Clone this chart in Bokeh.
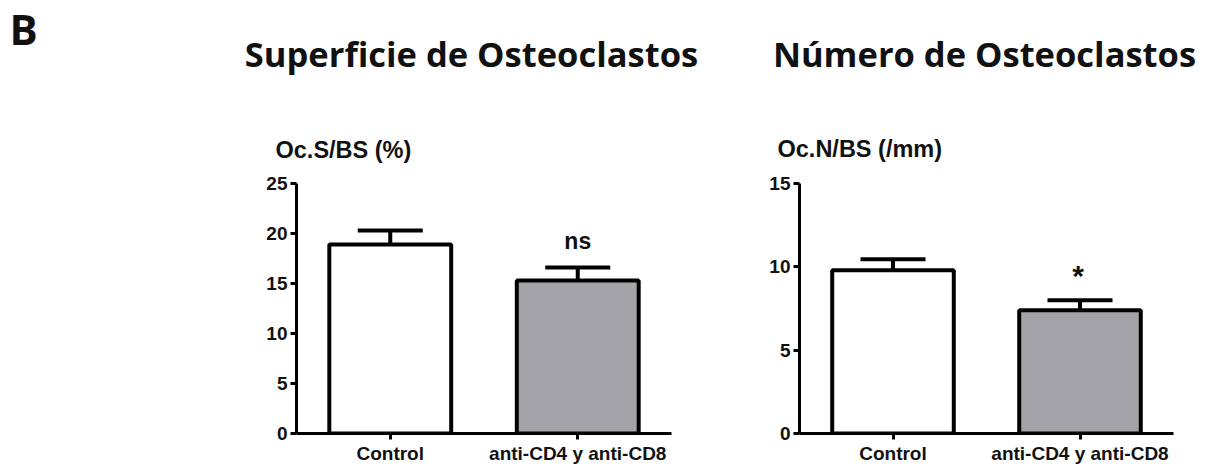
from bokeh.plotting import figure
from bokeh.models import (FactorRange, Range1d, FixedTicker, Label, Whisker,
                          TeeHead, ColumnDataSource)
from bokeh.layouts import row, column
from bokeh.embed import file_html
from bokeh.resources import INLINE

# ---------------- data ----------------
groups = ["Control", "anti-CD4 y anti-CD8"]
bar_colors = ["#ffffff", "#a4a4a8"]

ocs_mean = [18.9, 15.3]      # Oc.S/BS (%)
ocs_sem = [1.4, 1.3]
ocs_ticks = [0, 5, 10, 15, 20, 25]

ocn_mean = [9.8, 7.4]        # Oc.N/BS (/mm)
ocn_sem = [0.65, 0.6]
ocn_ticks = [0, 5, 10, 15]

panel_letter = "B"
panel_titles = ["Superficie de Osteoclastos", "Número de Osteoclastos"]
y_labels = ["Oc.S/BS (%)", "Oc.N/BS (/mm)"]
signif = ["ns", "*"]

TICK_FONT = "Liberation Sans"
TITLE_FONT = "Open Sans"
TXT = "#111111"

HEADER_H = 170
TOTAL_W = 1200
ROW_H = 296


def lab(p, x, y, text, font, size, align="left", baseline="middle"):
    p.add_layout(Label(x=x, y=y, text=text, text_font=font,
                       text_font_style="bold", text_font_size=size,
                       text_align=align, text_baseline=baseline,
                       text_color=TXT))


# ---------------- header (titles, axis captions) ----------------
hdr = figure(width=TOTAL_W, height=HEADER_H, x_range=Range1d(0, TOTAL_W),
             y_range=Range1d(HEADER_H, 0), x_axis_type=None,
             y_axis_type=None, output_backend="svg", toolbar_location=None,
             min_border=0)
hdr.outline_line_color = None
hdr.xgrid.visible = False
hdr.ygrid.visible = False
lab(hdr, 9, 28, panel_letter, TITLE_FONT, "42px", "left")
lab(hdr, 471, 53, panel_titles[0], TITLE_FONT, "34.5px", "center")
lab(hdr, 984, 53, panel_titles[1], TITLE_FONT, "34.5px", "center")
lab(hdr, 275, 149, y_labels[0], TICK_FONT, "23.5px")
lab(hdr, 777, 148, y_labels[1], TICK_FONT, "23.5px")


def make_panel(means, sems, ticks, width, mb_left, mb_right):
    src = ColumnDataSource(dict(
        g=groups, m=means, up=[a + b for a, b in zip(means, sems)],
        c=bar_colors))
    p = figure(x_range=FactorRange(*groups, range_padding=0),
               y_range=Range1d(0, ticks[-1]),
               width=width, height=ROW_H, output_backend="svg",
               toolbar_location=None,
               min_border_left=mb_left, min_border_right=mb_right,
               min_border_top=13, min_border_bottom=33)
    p.vbar(x="g", top="m", bottom=0, width=0.65, source=src,
           fill_color="c", line_color="black", line_width=4)
    w = Whisker(base="g", lower="m", upper="up", source=src,
                line_color="black", line_width=4, lower_head=None,
                upper_head=TeeHead(size=65, line_color="black",
                                   line_width=4))
    p.add_layout(w)

    p.xgrid.visible = False
    p.ygrid.visible = False
    p.outline_line_color = None
    p.background_fill_color = "white"
    p.border_fill_color = "white"

    for ax in (p.xaxis[0], p.yaxis[0]):
        ax.axis_line_width = 3
        ax.axis_line_color = "black"
        ax.major_tick_line_width = 3
        ax.major_tick_line_color = "black"
        ax.major_tick_out = 6
        ax.major_tick_in = 0
        ax.minor_tick_line_color = None
        ax.major_label_text_font = TICK_FONT
        ax.major_label_text_font_style = "bold"
        ax.major_label_text_font_size = "19px"
        ax.major_label_text_color = TXT
    p.yaxis[0].ticker = FixedTicker(ticks=ticks)
    p.yaxis[0].major_label_standoff = 3
    p.xaxis[0].major_label_standoff = 3
    return p


# left panel: frame page x 296..671 ; right panel: frame page x 799..1173
p1 = make_panel(ocs_mean, ocs_sem, ocs_ticks, 720, 296, 49)
p2 = make_panel(ocn_mean, ocn_sem, ocn_ticks, 480, 79, 27)

lab(p1, 1.5, 19.3, signif[0], TICK_FONT, "23px", "center")
lab(p2, 1.49, 9.46, signif[1], TICK_FONT, "30px", "center", "alphabetic")

layout = column(hdr, row(p1, p2))
open("out.html", "w").write(file_html(layout, INLINE))
